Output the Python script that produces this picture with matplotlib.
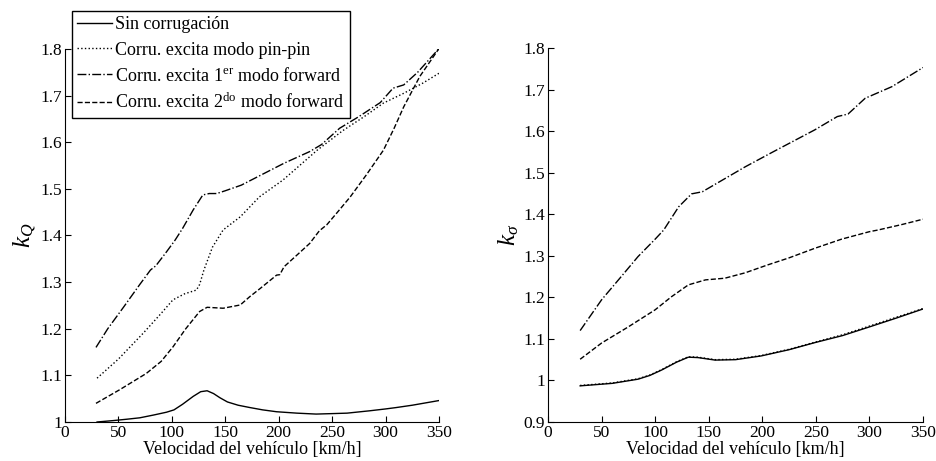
import numpy as np
import matplotlib
matplotlib.use("Agg")
import matplotlib.pyplot as plt

plt.rcParams['font.family'] = ['Liberation Serif', 'DejaVu Serif']
plt.rcParams['mathtext.fontset'] = 'custom'
plt.rcParams['mathtext.rm'] = 'Liberation Serif'
plt.rcParams['mathtext.it'] = 'Liberation Serif:italic'

# ---- left panel: k_Q ----
xq_sin = [30, 45, 58, 70, 83, 95, 102, 110, 120, 127, 133, 139, 145, 152, 162, 173,
          185, 198, 217, 235, 250, 264, 285, 300, 310, 325, 335, 350]
kq_sin = [1.000, 1.003, 1.006, 1.009, 1.015, 1.021, 1.026, 1.038, 1.055, 1.065, 1.067,
          1.061, 1.052, 1.043, 1.036, 1.031, 1.026, 1.022, 1.019, 1.017, 1.018, 1.019,
          1.024, 1.028, 1.031, 1.036, 1.040, 1.046]

xq_pin = [30, 50, 73, 90, 101, 112, 123, 126, 130, 138, 148, 164, 182, 204, 236, 260,
          280, 298, 317, 335, 350]
kq_pin = [1.094, 1.135, 1.190, 1.233, 1.262, 1.275, 1.283, 1.295, 1.326, 1.375, 1.412,
          1.440, 1.483, 1.519, 1.583, 1.625, 1.655, 1.684, 1.705, 1.727, 1.748]

xq_1er = [29, 40, 55, 70, 80, 85, 95, 103, 110, 120, 129, 135, 142, 150, 165, 182, 205,
          229, 240, 257, 275, 295, 307, 317, 330, 350]
kq_1er = [1.160, 1.200, 1.247, 1.295, 1.326, 1.335, 1.365, 1.390, 1.415, 1.455, 1.487,
          1.490, 1.490, 1.496, 1.508, 1.528, 1.555, 1.580, 1.595, 1.630, 1.655, 1.685,
          1.716, 1.723, 1.750, 1.801]

xq_2do = [29, 51, 76, 90, 101, 113, 126, 133, 148, 164, 173, 183, 198, 201, 205, 218,
          229, 238, 245, 255, 267, 282, 298, 308, 317, 332, 350]
kq_2do = [1.040, 1.069, 1.104, 1.130, 1.161, 1.200, 1.237, 1.246, 1.244, 1.251, 1.269,
          1.287, 1.315, 1.316, 1.333, 1.360, 1.383, 1.410, 1.423, 1.450, 1.483, 1.530,
          1.583, 1.630, 1.676, 1.741, 1.801]

# ---- right panel: k_sigma ----
xs_sin = [30, 60, 84, 95, 106, 120, 131, 140, 156, 175, 199, 225, 249, 275, 299, 325, 350]
ks_sin = [0.987, 0.993, 1.003, 1.012, 1.025, 1.044, 1.056, 1.055, 1.049, 1.050, 1.059,
          1.074, 1.091, 1.108, 1.128, 1.150, 1.172]
# pin-pin curve lies almost on top of the solid one
ks_pin = [0.988, 0.994, 1.004, 1.013, 1.026, 1.045, 1.057, 1.056, 1.050, 1.051, 1.060,
          1.075, 1.092, 1.110, 1.130, 1.152, 1.173]

xs_1er = [30, 50, 70, 84, 100, 108, 122, 134, 144, 160, 184, 210, 249, 270, 280, 288,
          296, 321, 350]
ks_1er = [1.120, 1.194, 1.255, 1.298, 1.340, 1.362, 1.418, 1.449, 1.454, 1.478, 1.514,
          1.550, 1.603, 1.635, 1.641, 1.660, 1.679, 1.707, 1.753]

xs_2do = [30, 50, 75, 100, 115, 131, 147, 165, 184, 205, 225, 249, 274, 300, 308, 330, 350]
ks_2do = [1.051, 1.090, 1.129, 1.170, 1.201, 1.230, 1.242, 1.246, 1.259, 1.278, 1.295,
          1.318, 1.340, 1.358, 1.362, 1.375, 1.388]

labels = ['Sin corrugación',
          'Corru. excita modo pin-pin',
          r'Corru. excita 1$^{\mathrm{er}}$ modo forward',
          r'Corru. excita 2$^{\mathrm{do}}$ modo forward']

fig = plt.figure(figsize=(9.36, 4.61), dpi=100)
ax1 = fig.add_axes([65/936, 1-422/461, 374/936, 373/461])
ax2 = fig.add_axes([548/936, 1-422/461, 375/936, 374/461])

lw = 1.0
ax1.plot(xq_sin, kq_sin, 'k-', lw=lw, label=labels[0])
ax1.plot(xq_pin, kq_pin, 'k:', lw=lw, label=labels[1])
ax1.plot(xq_1er, kq_1er, 'k-.', lw=lw, label=labels[2])
ax1.plot(xq_2do, kq_2do, 'k--', lw=lw, label=labels[3])

ax2.plot(xs_sin, ks_pin, 'k:', lw=lw)
ax2.plot(xs_sin, ks_sin, 'k-', lw=lw)
ax2.plot(xs_1er, ks_1er, 'k-.', lw=lw)
ax2.plot(xs_2do, ks_2do, 'k--', lw=lw)

ax1.set_xlim(0, 350)
ax1.set_ylim(1, 1.8)
ax1.set_yticks(np.arange(1, 1.81, 0.1))
ax1.set_yticklabels(['1', '1.1', '1.2', '1.3', '1.4', '1.5', '1.6', '1.7', '1.8'])
ax2.set_xlim(0, 350)
ax2.set_ylim(0.9, 1.8)
ax2.set_yticks(np.arange(0.9, 1.81, 0.1))
ax2.set_yticklabels(['0.9', '1', '1.1', '1.2', '1.3', '1.4', '1.5', '1.6', '1.7', '1.8'])

for ax in (ax1, ax2):
    ax.set_xticks(range(0, 351, 50))
    ax.spines['top'].set_visible(False)
    ax.spines['right'].set_visible(False)
    ax.tick_params(direction='in', length=4, labelsize=12.5, pad=2)
    ax.set_xlabel('Velocidad del vehículo [km/h]', fontsize=13, labelpad=0)
    ax.patch.set_alpha(0)

ax1.set_ylabel(r'$k_Q$', fontsize=18, labelpad=2)
ax2.set_ylabel(r'$k_\sigma$', fontsize=18, labelpad=2)

leg = ax1.legend(loc='upper left', bbox_to_anchor=(72/936, 1-11/461),
                 bbox_transform=fig.transFigure, fontsize=13, fancybox=False,
                 edgecolor='black', framealpha=1, borderaxespad=0,
                 handlelength=1.9, handletextpad=0.2, labelspacing=0.45,
                 borderpad=0.3)
leg.get_frame().set_linewidth(1.0)

fig.savefig('out.png', dpi=100)
